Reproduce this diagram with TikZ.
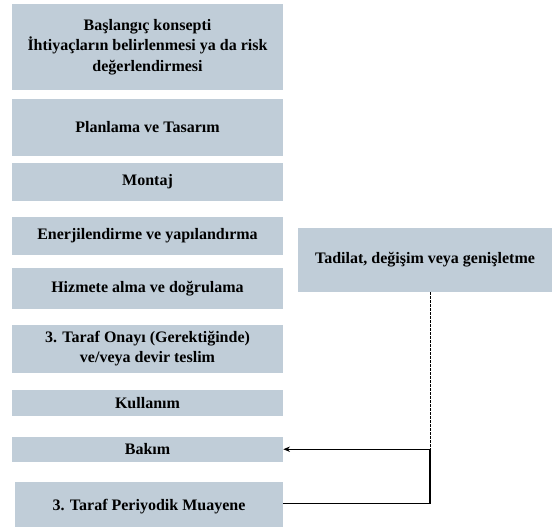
\documentclass[tikz,border=0pt]{standalone}
\usepackage{fontspec}
\setmainfont{Liberation Serif}
\usetikzlibrary{positioning,arrows.meta}
\definecolor{stageblue}{RGB}{192,205,216}

\begin{document}
\begin{tikzpicture}[
  x=0.75pt, y=-0.75pt,
  % Flat grey-blue boxes for the life-cycle stages
  stage/.style={rectangle, fill=stageblue, minimum width=203.25pt,
    inner sep=2pt, align=center,
    font=\fontsize{12}{15.5}\selectfont\bfseries},
  % Box on the side for changes
  change/.style={stage, minimum width=190.5pt, minimum height=48pt},
  % Thin arrows with small heads
  every edge/.style={draw, line width=0.6pt, -{Stealth[length=5pt, width=4pt]}},
]
  \useasboundingbox (0,0) rectangle (552,526);

  % === Left column: stages ===
  \node[stage, minimum height=64.5pt] (concept) at (147.5,47)
    {Başlangıç konsepti\\İhtiyaçların  belirlenmesi ya da risk\\değerlendirmesi};
  \node[stage, minimum height=42.75pt, below=6pt of concept] (plan) {Planlama  ve Tasarım};
  \node[stage, minimum height=28.5pt, below=5.25pt of plan] (montaj) {Montaj};
  \node[stage, minimum height=28.5pt, below=11.25pt of montaj] (energy) {Enerjilendirme  ve yapılandırma};
  \node[stage, minimum height=30.75pt, below=9.75pt of energy] (service) {Hizmete  alma  ve doğrulama};
  \node[stage, minimum height=36pt, below=11.25pt of service] (approval)
    {3. Taraf Onayı (Gerektiğinde)\\ve/veya devir teslim};
  \node[stage, minimum height=19.5pt, below=12.75pt of approval] (use) {Kullanım};
  \node[stage, minimum height=18.75pt, below=15pt of use] (bakim) {Bakım};
  \node[stage, minimum height=36pt, minimum width=201pt,
    below=15pt of bakim, xshift=1.125pt] (periodic) {3. Taraf Periyodik  Muayene};

  % === Right: changes ===
  \node[change] (tadilat) at (425,260) {Tadilat, değişim  veya genişletme};

  % === Connectors ===
  \coordinate (jn) at ([xshift=3.75pt]tadilat.south |- bakim.east);
  \draw[line width=0.6pt, dash pattern=on 2pt off 1pt] (jn |- tadilat.south) -- (jn);
  \draw[line width=0.8pt] ([yshift=2pt]periodic.east) -| (jn);
  \path (jn) edge (bakim.east);
\end{tikzpicture}
\end{document}
